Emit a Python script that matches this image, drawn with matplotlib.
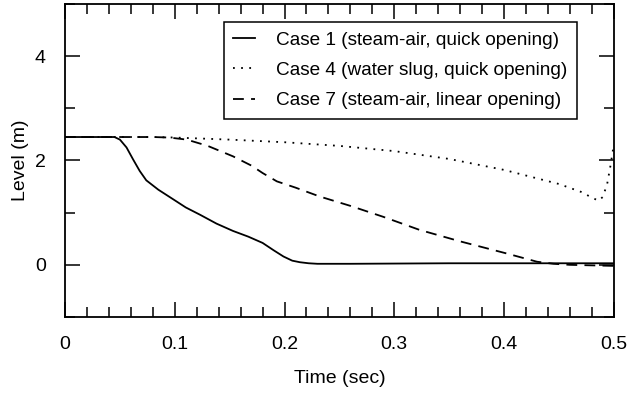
import matplotlib
matplotlib.use("Agg")
import matplotlib.pyplot as plt
from matplotlib.ticker import MultipleLocator

plt.rcParams["font.family"] = ["Liberation Sans", "DejaVu Sans"]

# Case 1 (steam-air, quick opening)
t1 = [0.0, 0.040, 0.045, 0.050, 0.056, 0.062, 0.068, 0.074, 0.085, 0.099,
      0.110, 0.123, 0.138, 0.153, 0.167, 0.180, 0.190, 0.199, 0.207, 0.214,
      0.222, 0.230, 0.260, 0.350, 0.500]
lvl1 = [2.45, 2.45, 2.45, 2.40, 2.25, 2.02, 1.80, 1.62, 1.44, 1.25,
        1.10, 0.96, 0.79, 0.65, 0.54, 0.42, 0.28, 0.16, 0.08, 0.05,
        0.03, 0.02, 0.02, 0.03, 0.03]

# Case 4 (water slug, quick opening)
t4 = [0.0, 0.080, 0.100, 0.150, 0.200, 0.250, 0.300, 0.350, 0.400,
      0.450, 0.470, 0.480, 0.486, 0.490, 0.494, 0.497, 0.500]
lvl4 = [2.45, 2.45, 2.44, 2.40, 2.35, 2.28, 2.18, 2.03, 1.82,
        1.55, 1.40, 1.29, 1.23, 1.30, 1.55, 1.90, 2.30]

# Case 7 (steam-air, linear opening)
t7 = [0.0, 0.080, 0.095, 0.111, 0.130, 0.153, 0.170, 0.180, 0.193,
      0.210, 0.232, 0.260, 0.290, 0.323, 0.360, 0.402, 0.430, 0.445,
      0.460, 0.500]
lvl7 = [2.45, 2.45, 2.44, 2.40, 2.28, 2.08, 1.90, 1.76, 1.60,
        1.48, 1.31, 1.13, 0.92, 0.67, 0.45, 0.22, 0.06, 0.02,
        0.0, -0.02]

labels = ["Case 1 (steam-air, quick opening)",
          "Case 4 (water slug, quick opening)",
          "Case 7 (steam-air, linear opening)"]

fs = 14

fig = plt.figure(figsize=(6.38, 3.99), dpi=100)
ax = fig.add_axes([0.102, 0.2055, 0.860, 0.7845])

ax.plot(t1, lvl1, color="black", lw=1.3, linestyle="-", label=labels[0])
ax.plot(t4, lvl4, color="black", lw=1.3, linestyle=(0, (1, 3.5)), label=labels[1])
ax.plot(t7, lvl7, color="black", lw=1.3, linestyle=(0, (6, 4)), label=labels[2])

ax.set_xlim(0, 0.5)
ax.set_ylim(-1, 5)
ax.xaxis.set_minor_locator(MultipleLocator(0.02))
ax.yaxis.set_minor_locator(MultipleLocator(1))
ax.set_xticks([0, 0.1, 0.2, 0.3, 0.4, 0.5])
ax.set_xticklabels(["0", "0.1", "0.2", "0.3", "0.4", "0.5"])
ax.set_yticks([0, 2, 4])
ax.set_yticklabels(["0", "2", "4"])
ax.tick_params(which="both", direction="in", top=True, right=True,
               labelsize=fs, width=1.1)
ax.tick_params(which="major", length=11, pad=14)
ax.tick_params(which="minor", length=7)
for s in ax.spines.values():
    s.set_linewidth(1.3)

ax.set_xlabel("Time (sec)", fontsize=fs, labelpad=12)
ax.set_ylabel("Level (m)", fontsize=fs, labelpad=4)

leg = ax.legend(loc="upper right", bbox_to_anchor=(0.933, 0.9425), fontsize=13.7,
                frameon=True, fancybox=False, handlelength=1.15,
                borderaxespad=0, borderpad=0.5, labelspacing=0.68,
                handletextpad=1.1)
leg.get_frame().set_edgecolor("black")
leg.get_frame().set_linewidth(1.1)
leg.get_frame().set_alpha(1)

fig.savefig("out.png", dpi=100)
